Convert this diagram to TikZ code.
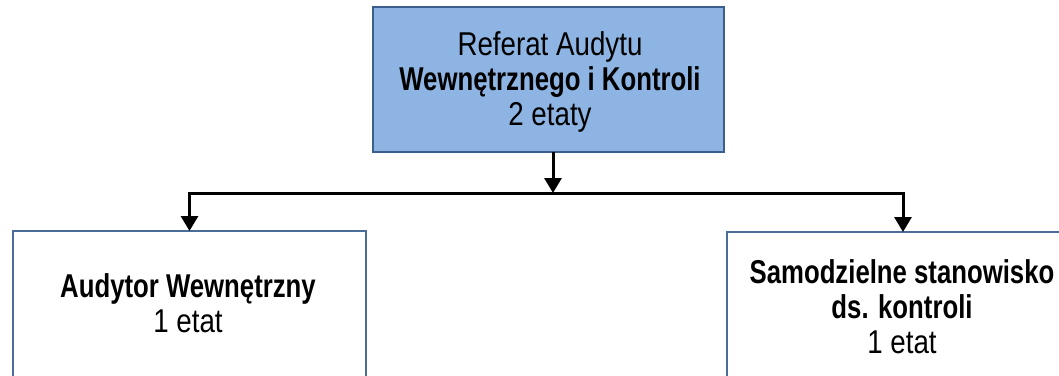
\documentclass[tikz,border=0pt]{standalone}
\usepackage{fontspec}
\setmainfont{Liberation Sans}[FakeStretch=0.84,BoldFeatures={FakeStretch=0.78}]
\usetikzlibrary{arrows.meta}
\definecolor{boxfill}{HTML}{8DB4E2}
\definecolor{boxline}{HTML}{3A5F8C}
\definecolor{lowline}{HTML}{4A6D99}
\begin{document}
\begin{tikzpicture}[x=1pt,y=-1pt,
  every node/.style={inner sep=0pt,outer sep=0pt},
  topbox/.style={draw=boxline,line width=2.5pt,fill=boxfill,minimum width=351pt,minimum height=145pt},
  lowbox/.style={draw=lowline,line width=2pt,fill=white,minimum width=353pt,minimum height=300pt},
  label/.style={align=center,anchor=base,font=\fontsize{33}{35}\selectfont},
  conn/.style={line width=3pt,black},
  tip/.style={-{Triangle[length=15pt,width=17pt]}}]
\useasboundingbox (0,0) rectangle (1059,375);
\node[topbox] (top) at (548.5,79.5) {};
\node[label] (toptext) at (550,125) {Referat Audytu\\\textbf{Wewnętrznego i Kontroli}\\2 etaty};
\node[lowbox,anchor=north] (left) at (189.5,231) {};
\node[lowbox,anchor=north] (right) at (903,232) {};
\node[label] (lefttext) at (188,332) {\textbf{Audytor Wewnętrzny}\\1 etat};
\node[label] (righttext) at (902,353) {\textbf{Samodzielne stanowisko}\\\textbf{ds. kontroli}\\1 etat};
\coordinate (j) at (553,193);
\coordinate (jl) at (189.5,193);
\coordinate (jr) at (903,193);
\draw[conn,tip] (top.south -| j) -- (j);
\draw[conn,line cap=rect] (jl) -- (jr);
\draw[conn,tip] (jl) -- (left.north);
\draw[conn,tip] (jr) -- (right.north);
\end{tikzpicture}
\end{document}
